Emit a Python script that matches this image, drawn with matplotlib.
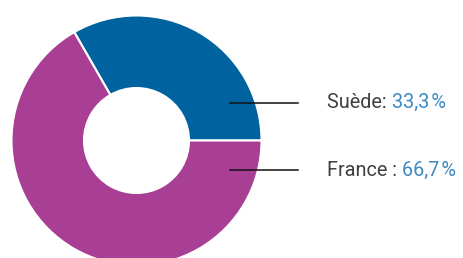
import matplotlib
matplotlib.use("Agg")
import matplotlib.pyplot as plt

countries = ["Suède", "France"]
shares = [33.3, 66.7]
share_labels = ["33,3\u200a%", "66,7\u200a%"]
label_sep = [": ", " : "]
colors = ["#00639F", "#A93E95"]

W, H = 463, 258
fig = plt.figure(figsize=(W / 100, H / 100), dpi=100)
fig.patch.set_facecolor("white")

cx, cy, R = 136.5, 140.5, 125.0
ax = fig.add_axes([(cx - R) / W, (H - cy - R) / H, 2 * R / W, 2 * R / H])
ax.pie(shares, colors=colors, startangle=0, counterclock=True, radius=1.0,
       wedgeprops=dict(width=1 - 52.5 / 125, edgecolor="white", linewidth=1.5))
ax.set_xlim(-1, 1)
ax.set_ylim(-1, 1)
ax.set_aspect("auto")
ax.axis("off")

# leader lines and labels (pixel coordinates from top)
line_y = [103, 170]
text_base = [107.5, 175.5]
fx = lambda x: x / W
fy = lambda y: (H - y) / H
fam = ["Roboto", "DejaVu Sans"]
fig.canvas.draw()
renderer = fig.canvas.get_renderer()
for i, name in enumerate(countries):
    fig.add_artist(plt.Line2D([fx(230), fx(298)], [fy(line_y[i]), fy(line_y[i])],
                              color="#111111", lw=1.1, transform=fig.transFigure))
    t = fig.text(fx(327), fy(text_base[i]), name + label_sep[i], fontsize=14.3,
                 family=fam, color="#404040", va="baseline", ha="left")
    bb = t.get_window_extent(renderer=renderer)
    fig.text(bb.x1 / W, fy(text_base[i]), share_labels[i], fontsize=14.3,
             family=fam, color="#3D8AC4", va="baseline", ha="left")

fig.savefig("out.png", dpi=100, facecolor="white")
